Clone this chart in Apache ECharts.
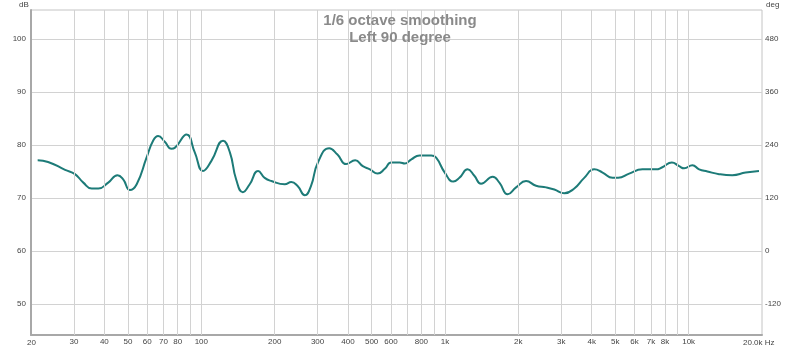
<!DOCTYPE html>
<html>
<head>
<meta charset="utf-8">
<script src="https://cdn.jsdelivr.net/npm/echarts@6/dist/echarts.min.js"></script>
<style>
  html, body { margin: 0; padding: 0; background: #fff; }
  #chart { width: 800px; height: 352px; }
</style>
</head>
<body>
<div id="chart"></div>
<script>
// frequency response
const freqHz = [21.3, 23.5, 27.6, 30.3, 32.8, 35.5, 37.8, 41.5, 45.3, 47.8, 50.9, 54.3, 59.6, 63.4, 66.5, 70.8, 75.4,
  78, 87, 94, 101.6, 110, 122.8, 131, 139, 148, 158, 171, 182, 194, 220, 234, 248, 266, 282, 301, 335,
  362, 393, 428, 460, 492, 529, 566, 602, 652, 684, 728, 786, 878, 920, 998, 1082, 1146, 1239, 1320,
  1406, 1570, 1672, 1808, 1958, 2152, 2364, 2600, 2810, 3088, 3394, 3728, 4098, 4434, 4872, 5140, 5700,
  6460, 7332, 7800, 8532, 9140, 9580, 10360, 11040, 11940, 13330, 15100, 17140, 19440];
const levelDb = [77.1, 76.8, 75.3, 74.5, 72.9, 71.8, 71.8, 72.9, 74.3, 73.5, 71.5, 72.6, 77.6, 80.8, 81.7, 80.6, 79.3,
  79.5, 82.0, 78.6, 75.1, 77.0, 80.8, 78.6, 73.5, 71.1, 72.6, 75.1, 73.8, 73.2, 72.6, 73.0, 72.3, 70.5, 72.3, 76.7, 79.4,
  78.2, 76.4, 77.1, 76.0, 75.4, 74.6, 75.5, 76.7, 76.7, 76.5, 77.3, 78.0, 78.0, 77.6, 74.8, 73.1, 73.8, 75.4, 74.2,
  72.7, 74.0, 72.9, 70.7, 72.0, 73.2, 72.3, 72.0, 71.6, 70.9, 71.8, 73.8, 75.4, 74.8, 73.8, 73.8, 74.6,
  75.4, 75.4, 75.8, 76.7, 76.0, 75.6, 76.2, 75.4, 75.0, 74.5, 74.3, 74.8, 75.1];

// axis ticks
const freqGrid = [30, 40, 50, 60, 70, 80, 90, 100, 200, 300, 400, 500, 600, 700, 800, 900,
  1000, 2000, 3000, 4000, 5000, 6000, 7000, 8000, 9000, 10000];
const freqLabels = ['30', '40', '50', '60', '70', '80', '', '100', '200', '300', '400', '500', '600', '', '800', '',
  '1k', '2k', '3k', '4k', '5k', '6k', '7k', '8k', '', '10k'];
const dbTicks = [50, 60, 70, 80, 90, 100];
const degTicks = [-120, 0, 120, 240, 360, 480];

const labelColor = '#444';
const labelFont = 'Arial, "Liberation Sans", sans-serif';

const myChart = echarts.init(document.getElementById('chart'));

const option = {
  animation: false,
  title: {
    text: '1/6 octave smoothing\nLeft 90 degree',
    left: 'center',
    top: 12,
    padding: 0,
    textStyle: {
      color: '#8a8a8a',
      fontSize: 15,
      fontWeight: 'bold',
      lineHeight: 17.5,
      fontFamily: labelFont
    }
  },
  grid: {
    left: 31,
    right: 38,
    top: 10,
    bottom: 17,
    show: true,
    borderColor: '#c4c4c4',
    borderWidth: 1
  },
  xAxis: {
    type: 'log',
    logBase: 10,
    min: 20,
    max: 20000,
    axisLine: { show: true, onZero: false, lineStyle: { color: '#a8a8a8', width: 2 } },
    axisTick: { show: false },
    axisLabel: { show: false },
    splitLine: { show: false }
  },
  yAxis: [
    {
      type: 'value',
      min: 44.15,
      max: 105.47,
      axisLine: { show: true, lineStyle: { color: '#a8a8a8', width: 2 } },
      axisTick: { show: false, customValues: dbTicks },
      axisLabel: {
        customValues: dbTicks,
        color: labelColor,
        fontSize: 8,
        fontFamily: labelFont,
        margin: 5
      },
      splitLine: { show: true, lineStyle: { color: '#d2d2d2', width: 1 } }
    },
    {
      type: 'value',
      min: -190.2,
      max: 545.7,
      position: 'right',
      axisLine: { show: false },
      axisTick: { show: false, customValues: degTicks },
      axisLabel: {
        customValues: degTicks,
        color: labelColor,
        fontSize: 8,
        fontFamily: labelFont,
        margin: 3
      },
      splitLine: { show: false }
    }
  ],
  graphic: [
    { type: 'text', left: 19, top: 1, style: { text: 'dB', fill: labelColor, font: '8px ' + labelFont } },
    { type: 'text', left: 766, top: 1, style: { text: 'deg', fill: labelColor, font: '8px ' + labelFont } },
    { type: 'text', left: 743, top: 339, style: { text: '20.0k Hz', fill: labelColor, font: '8px ' + labelFont } },
    { type: 'text', left: 27, top: 339, style: { text: '20', fill: labelColor, font: '8px ' + labelFont } }
  ],
  series: [
    {
      // vertical grid lines on the log scale
      type: 'line',
      data: [],
      z: 1,
      silent: true,
      markLine: {
        silent: true,
        symbol: 'none',
        animation: false,
        lineStyle: { color: '#d2d2d2', width: 1, type: 'solid' },
        emphasis: { disabled: true },
        label: {
          position: 'start',
          distance: 3,
          color: labelColor,
          fontSize: 8,
          fontFamily: labelFont
        },
        data: freqGrid.map((f, i) => ({
          xAxis: f,
          label: { show: freqLabels[i] !== '', formatter: freqLabels[i] }
        }))
      }
    },
    {
      type: 'line',
      z: 3,
      smooth: 0.5,
      symbol: 'none',
      lineStyle: { color: '#1d7b78', width: 2 },
      data: freqHz.map((f, i) => [f, levelDb[i]])
    }
  ]
};

option && myChart.setOption(option);
window.addEventListener('resize', myChart.resize);
</script>
</body>
</html>
